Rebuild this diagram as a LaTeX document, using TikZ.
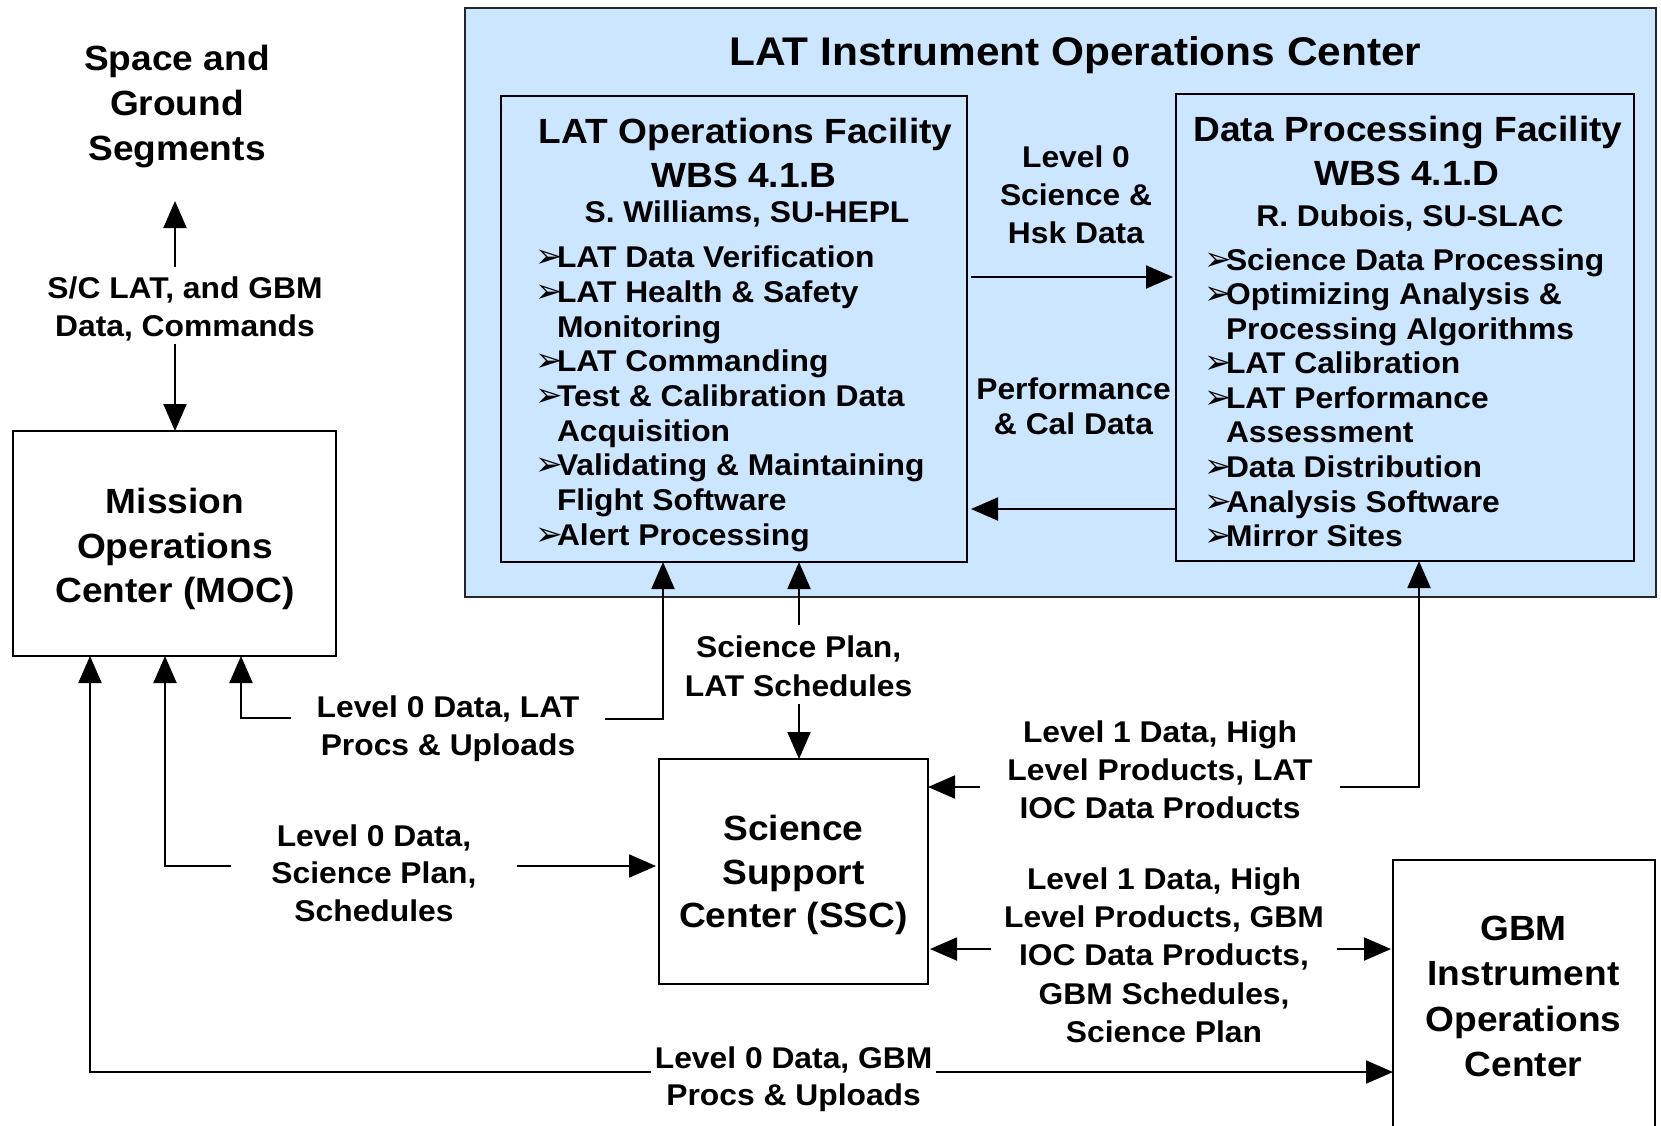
\documentclass[tikz,border=0pt]{standalone}
\usepackage{fontspec}
\setmainfont{Liberation Sans}[FakeStretch=1.06]
\newfontfamily\dingfont{DejaVu Sans}
\usetikzlibrary{arrows.meta}
\definecolor{iocblue}{RGB}{204,230,255}
\newcommand\bl{\makebox[22pt][l]{\dingfont\mdseries\fontsize{33}{33}\selectfont ➢}}
\newcommand\ind{\hspace*{22pt}}
\tikzset{
  box/.style={draw=black, line width=2pt, inner sep=0pt, outer sep=0pt, anchor=north west},
  txt/.style={inner sep=0pt, outer sep=0pt},
  fs/.style 2 args={font=\bfseries\fontsize{#1}{#2}\selectfont},
  tip/.style={line width=2pt, -{Triangle[length=27pt,width=23pt]}},
}
\begin{document}
\begin{tikzpicture}[x=1pt,y=-1pt]
\useasboundingbox (0,0) rectangle (1661,1125);

% ---------- boxes ----------
\node[box, fill=iocblue, draw=black!85, minimum width=1191pt, minimum height=589pt] (ioc) at (465,8) {};
\node[box, minimum width=466pt, minimum height=466pt] (lof) at (501,96) {};
\node[box, minimum width=458pt, minimum height=467pt] (dpf) at (1176,94) {};
\node[box, minimum width=323pt, minimum height=225pt] (moc) at (13,431) {};
\node[box, minimum width=269pt, minimum height=225pt] (ssc) at (659,759) {};
\node[box, minimum width=262pt, minimum height=290pt] (gbm) at (1393,860) {};

% ---------- LAT IOC texts ----------
\node[txt, fs={40}{48}, anchor=base] (title) at (1075.5,65) {LAT Instrument Operations Center};

\node[txt, fs={35}{44}, anchor=base] (lofh1) at (745.7,143.5) {LAT Operations Facility};
\node[txt, fs={35}{44}, anchor=base] (lofh2) at (744,187.5) {WBS 4.1.B};
\node[txt, fs={30}{36}, anchor=base] (lofh3) at (747,222) {S. Williams, SU-HEPL};
\node[txt, fs={30}{34.7}, align=left, anchor=north west] (loflist) at (535,245.9)
  {\bl LAT Data Verification\\
   \bl LAT Health \& Safety\\
   \ind Monitoring\\
   \bl LAT Commanding\\
   \bl Test \& Calibration Data\\
   \ind Acquisition\\
   \bl Validating \& Maintaining\\
   \ind Flight Software\\
   \bl Alert Processing};

\node[txt, fs={35}{44}, anchor=base] (dpfh1) at (1408,141) {Data Processing Facility};
\node[txt, fs={35}{44}, anchor=base] (dpfh2) at (1407,185.6) {WBS 4.1.D};
\node[txt, fs={30}{36}, anchor=base] (dpfh3) at (1410,226) {R. Dubois, SU-SLAC};
\node[txt, fs={30}{34.56}, align=left, anchor=north west] (dpflist) at (1204,248.4)
  {\bl Science Data Processing\\
   \bl Optimizing Analysis \&\\
   \ind Processing Algorithms\\
   \bl LAT Calibration\\
   \bl LAT Performance\\
   \ind Assessment\\
   \bl Data Distribution\\
   \bl Analysis Software\\
   \bl Mirror Sites};

\node[txt, fs={30}{37.7}, align=center, anchor=north] (l0sci) at (1076,146) {Level 0\\Science \&\\Hsk Data};
\node[txt, fs={30}{35.5}, align=center, anchor=north] (perf) at (1073.5,377.4) {Performance\\\& Cal Data};

% ---------- other box texts ----------
\node[txt, fs={35}{45}, align=center, anchor=north] (sgs) at (177,45.3) {Space and\\Ground\\Segments};
\node[txt, fs={30}{38}, align=center, anchor=north] (scl) at (185,277.1) {S/C LAT, and GBM\\Data, Commands};
\node[txt, fs={35}{44.6}, align=center, anchor=north] (moct) at (175,488.2) {Mission\\Operations\\Center (MOC)};
\node[txt, fs={35}{43.5}, align=center, anchor=north] (ssct) at (793.5,815.2) {Science\\Support\\Center (SSC)};
\node[txt, fs={35}{45.2}, align=center, anchor=north] (gbmt) at (1523.5,916.3) {GBM\\Instrument\\Operations\\Center};

% ---------- connector labels ----------
\node[txt, fs={30}{38.5}, align=center, anchor=north, inner xsep=26pt] (lblA) at (448,695.6) {Level 0 Data, LAT\\Procs \& Uploads};
\node[txt, fs={30}{37.7}, align=center, anchor=north, inner xsep=40pt] (lblB) at (374,824.4) {Level 0 Data,\\Science Plan,\\Schedules};
\node[txt, fs={30}{37}, align=center, anchor=north, inner xsep=4pt] (lblC) at (793.6,1047) {Level 0 Data, GBM\\Procs \& Uploads};
\node[txt, fs={30}{38.8}, align=center, anchor=north] (lblD) at (798.6,636) {Science Plan,\\LAT Schedules};
\node[txt, fs={30}{38}, align=center, anchor=north, inner xsep=27.5pt] (lblE) at (1160,720.7) {Level 1 Data, High\\Level Products, LAT\\IOC Data Products};
\node[txt, fs={30}{38.1}, align=center, anchor=north, inner xsep=13pt] (lblF) at (1164,868) {Level 1 Data, High\\Level Products, GBM\\IOC Data Products,\\GBM Schedules,\\Science Plan};

% ---------- routing coordinates ----------
\coordinate (sgsTip) at (175,201);
\coordinate (sclTop) at (175,266.5);
\coordinate (sclBot) at (175,344);
\coordinate (yB) at (0,277);
\coordinate (yC) at (0,509);
\coordinate (d1) at (241,718);
\coordinate (d2) at (663,719);
\coordinate (e1) at (165,866);
\coordinate (f1) at (90,1072);
\coordinate (g1) at (799,625);
\coordinate (g2) at (799,704);
\coordinate (h1) at (1419,787);
\coordinate (i1) at (0,949);

% ---------- connectors ----------
\draw[tip] (sclTop) -- (sgsTip);
\draw[tip] (sclBot) -- (sclBot |- moc.north);

\draw[tip, shorten <=4pt, shorten >=3pt] (lof.east |- yB) -- (dpf.west |- yB);
\draw[tip, shorten >=4pt] (dpf.west |- yC) -- (lof.east |- yC);

\draw[tip] (lblA.west |- d1) -- (d1) -- (d1 |- moc.south);
\draw[tip] (lblA.east |- d2) -- (d2) -- (d2 |- lof.south);

\draw[tip] (lblB.west |- e1) -- (e1) -- (e1 |- moc.south);
\draw[tip, shorten >=3pt] (lblB.east |- e1) -- (e1 -| ssc.west);

\draw[tip] (lblC.west |- f1) -- (f1) -- (f1 |- moc.south);
\draw[tip] (lblC.east |- f1) -- (f1 -| gbm.west);

\draw[tip] (g1) -- (g1 |- lof.south);
\draw[tip] (g2) -- (g2 |- ssc.north);

\draw[tip] (lblE.east |- h1) -- (h1) -- (h1 |- dpf.south);
\draw[tip] (lblE.west |- h1) -- (h1 -| ssc.east);

\draw[tip, shorten >=2pt] (lblF.west |- i1) -- (ssc.east |- i1);
\draw[tip, shorten >=2pt] (lblF.east |- i1) -- (gbm.west |- i1);
\end{tikzpicture}
\end{document}
